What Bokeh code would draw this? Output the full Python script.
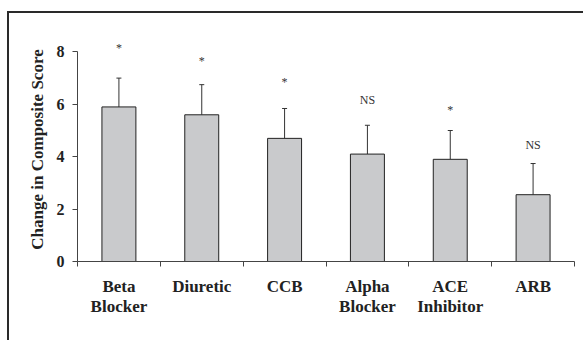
from bokeh.plotting import figure
from bokeh.models import ColumnDataSource, FixedTicker, Whisker, TeeHead, Range1d
from bokeh.core.properties import value
from bokeh.embed import file_html
from bokeh.resources import INLINE

# ---- data ----
categories = ["Beta\nBlocker", "Diuretic", "CCB", "Alpha\nBlocker", "ACE\nInhibitor", "ARB"]
means = [5.9, 5.6, 4.7, 4.1, 3.9, 2.55]
upper_err = [7.0, 6.75, 5.84, 5.2, 5.0, 3.74]
sig_labels = ["*", "*", "*", "NS", "*", "NS"]
sig_heights = [8.14, 7.67, 6.85, 6.17, 5.78, 4.46]
y_ticks = [0, 2, 4, 6, 8]

xs = [i + 0.5 for i in range(len(categories))]
src = ColumnDataSource(dict(x=xs, top=means, upper=upper_err,
                            sig=sig_labels, sy=sig_heights))

SERIF = "Liberation Serif"
DARK = "#222222"
AXIS = "#444444"

p = figure(width=576, height=329, output_backend="svg", toolbar_location=None,
           x_range=Range1d(0, 6), y_range=Range1d(0, 8.55),
           min_border_left=68, min_border_right=11, min_border_top=24, min_border_bottom=81)
p.styles = {"border-top": "2px solid #2a2a2a", "border-left": "2px solid #2a2a2a",
            "margin-top": "11px", "margin-left": "7px"}
p.outline_line_color = None
p.xgrid.visible = False
p.ygrid.visible = False
p.background_fill_color = "white"
p.border_fill_color = "white"

p.vbar(x="x", top="top", width=0.41, source=src, fill_color="#c9cacc",
       line_color=DARK, line_width=1)

p.add_layout(Whisker(base="x", lower="top", upper="upper", source=src,
                     line_color="#333333", line_width=1,
                     upper_head=TeeHead(size=5, line_color="#333333", line_width=1),
                     lower_head=None))

p.text(x="x", y="sy", text="sig", source=src, text_align="center",
       text_baseline="alphabetic", text_font=value(SERIF), text_font_size="12px",
       text_color="#333333")

# y axis
ya = p.yaxis[0]
ya.ticker = FixedTicker(ticks=y_ticks)
ya.bounds = (0, 8)
ya.axis_line_color = AXIS
ya.major_tick_line_color = AXIS
ya.major_tick_out = 5
ya.major_tick_in = 0
ya.minor_tick_line_color = None
ya.major_label_text_font = SERIF
ya.major_label_text_font_style = "bold"
ya.major_label_text_font_size = "16px"
ya.major_label_text_color = DARK
ya.major_label_standoff = 8
ya.axis_label = "Change in Composite Score"
ya.axis_label_text_font = SERIF
ya.axis_label_text_font_style = "bold"
ya.axis_label_text_font_size = "17px"
ya.axis_label_text_color = DARK
ya.axis_label_standoff = 7

# x axis: boundaries as minor ticks, category labels at centers
xa = p.xaxis[0]
xa.ticker = FixedTicker(ticks=xs, minor_ticks=list(range(len(categories) + 1)))
xa.major_label_overrides = {x: c for x, c in zip(xs, categories)}
xa.axis_line_color = AXIS
xa.major_tick_line_color = None
xa.major_tick_out = 0
xa.major_tick_in = 0
xa.minor_tick_line_color = AXIS
xa.minor_tick_out = 5
xa.minor_tick_in = 0
xa.major_label_text_font = SERIF
xa.major_label_text_font_style = "bold"
xa.major_label_text_font_size = "17px"
xa.major_label_text_line_height = 1.06
xa.major_label_text_color = DARK
xa.major_label_standoff = 10

open("out.html", "w").write(file_html(p, INLINE))
